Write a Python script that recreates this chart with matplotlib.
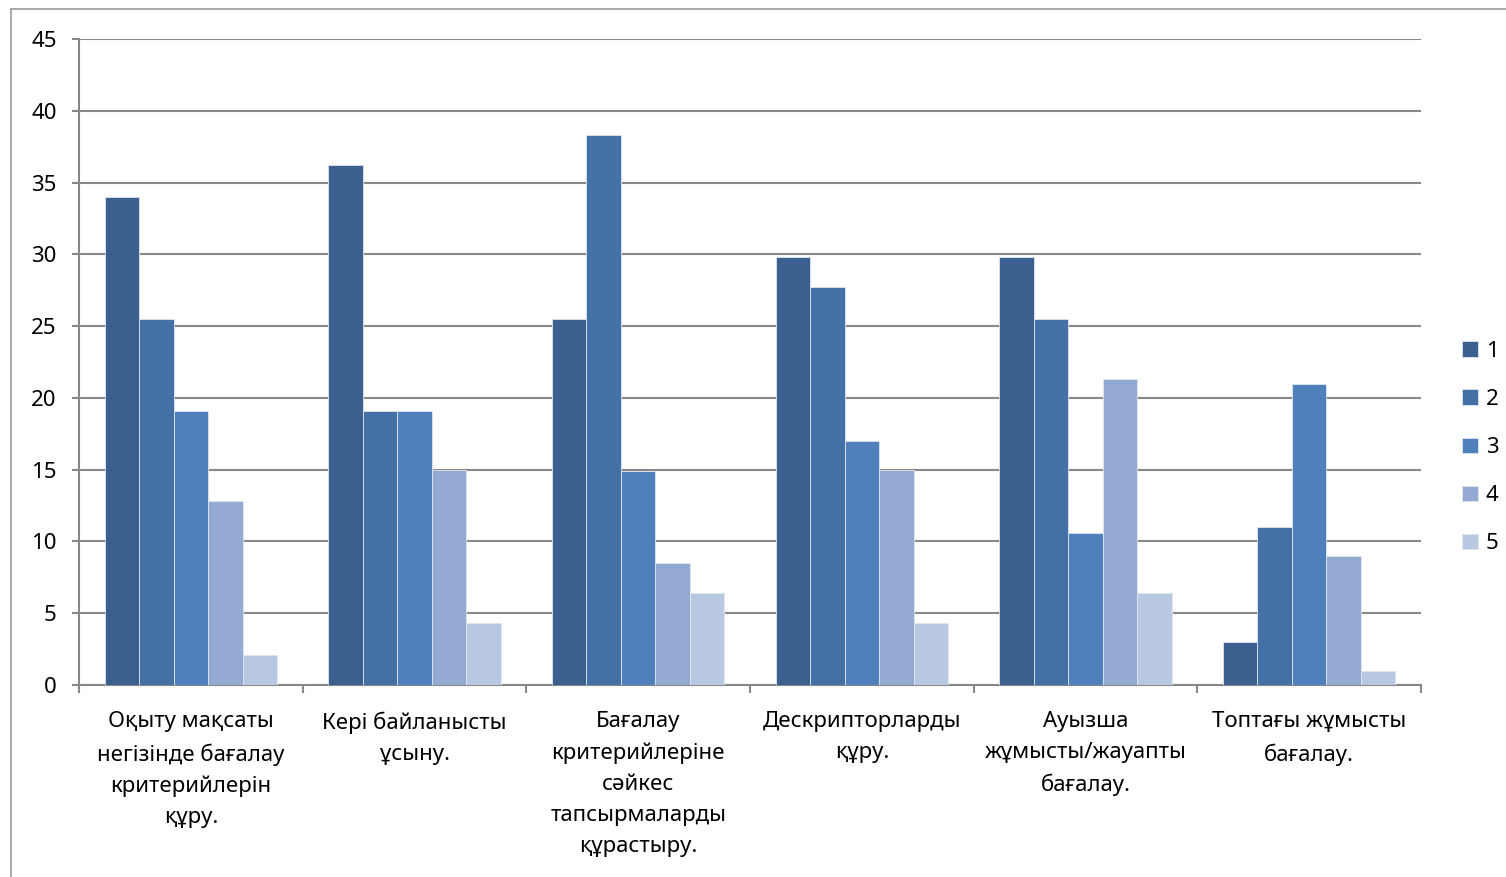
import numpy as np
import matplotlib
matplotlib.use("Agg")
import matplotlib.pyplot as plt
from matplotlib.lines import Line2D

plt.rcParams['font.family'] = ['Noto Sans', 'DejaVu Sans']

categories = [
    "Оқыту мақсаты\nнегізінде бағалау\nкритерийлерін\nқұру.",
    "Кері байланысты\nұсыну.",
    "Бағалау\nкритерийлеріне\nсәйкес\nтапсырмаларды\nқұрастыру.",
    "Дескрипторларды\nқұру.",
    "Ауызша\nжұмысты/жауапты\nбағалау.",
    "Топтағы жұмысты\nбағалау.",
]
series_names = ["1", "2", "3", "4", "5"]
s1 = [34.0, 36.2, 25.5, 29.8, 29.8, 3.0]
s2 = [25.5, 19.1, 38.3, 27.7, 25.5, 11.0]
s3 = [19.1, 19.1, 14.9, 17.0, 10.6, 21.0]
s4 = [12.8, 15.0, 8.5, 15.0, 21.3, 9.0]
s5 = [2.1, 4.3, 6.4, 4.3, 6.4, 1.0]
yticks = [0, 5, 10, 15, 20, 25, 30, 35, 40, 45]

colors = ["#3B5F8E", "#4471A5", "#4F80BC", "#95AAD2", "#B9C8E1"]
grid_c = "#888888"

W, H = 1506, 877
fig = plt.figure(figsize=(W / 100, H / 100), dpi=100)
ax = fig.add_axes([79 / W, 1 - 685 / H, (1421 - 79) / W, (685 - 39) / H])

# chart frame
fig.add_artist(Line2D([11 / W, 11 / W], [0, 1 - 9 / H], color="#999999", lw=1.2,
                      transform=fig.transFigure))
fig.add_artist(Line2D([11 / W, 1], [1 - 9 / H, 1 - 9 / H], color="#999999", lw=1.2,
                      transform=fig.transFigure))

x = np.arange(len(categories))
bw = 0.154
for i, (vals, c, name) in enumerate(zip([s1, s2, s3, s4, s5], colors, series_names)):
    ax.bar(x + (i - 2) * bw, vals, bw, color=c, edgecolor="#dfe6f0", linewidth=0.6,
           label=name, zorder=3)

ax.set_xlim(-0.5, len(categories) - 0.5)
ax.set_ylim(0, 45)
ax.set_yticks(yticks)
ax.yaxis.grid(True, color=grid_c, linewidth=1.5, zorder=0)
ax.set_xticks(x)
ax.set_xticklabels(categories, fontsize=16, linespacing=1.62, va="top")
ax.set_xticks(np.arange(-0.5, len(categories)), minor=True)
ax.tick_params(axis="x", which="major", length=0, pad=19)
ax.tick_params(axis="x", which="minor", length=6, width=1.5, color=grid_c)
ax.tick_params(axis="y", length=5, width=1.5, color=grid_c, labelsize=16, pad=11)

for s in ["top", "right"]:
    ax.spines[s].set_visible(False)
for s in ["left", "bottom"]:
    ax.spines[s].set_color(grid_c)
    ax.spines[s].set_linewidth(1.5)

leg = ax.legend(loc="center left", bbox_to_anchor=(1.016, 0.3674), frameon=False,
                fontsize=16, handlelength=0.7, handleheight=0.7, handletextpad=0.35,
                labelspacing=1.22)

fig.savefig("out.png", dpi=100)
